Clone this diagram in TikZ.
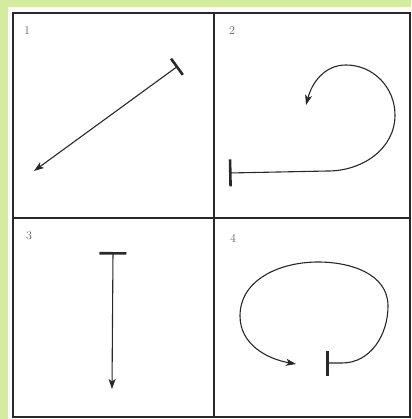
\documentclass[tikz,border=0pt]{standalone}
\usepackage{tikz}
\usetikzlibrary{arrows.meta,positioning,calc}
\definecolor{bggreen}{RGB}{213,235,160}
\definecolor{inkgray}{RGB}{40,40,40}
\definecolor{numgray}{RGB}{100,100,100}

\begin{document}
\begin{tikzpicture}[x=1pt,y=-1pt,
    grid/.style={draw=inkgray, line width=1.6pt},
    num/.style={text=numgray, font=\large, inner sep=0pt},
    barrow/.style={line width=1.1pt, inkgray,
        {Bar[width=#1,line width=2.6pt]}-{Stealth[length=10pt,width=7pt,inset=2.5pt]}},
    barrow/.default=24pt
]
    \useasboundingbox (0,0) rectangle (411,419);
    \fill[bggreen] (0,0) rectangle (411,419);
    \fill[white] (8,7) rectangle (411,419);

    % panel grid
    \draw[grid] (13,13) rectangle (410,417);
    \draw[grid] (214,13) -- (214,417);
    \draw[grid] (13,218) -- (410,218);

    % panel numbers
    \node[num] (n1) at (27,31) {1};
    \node[num] (n2) at (232,31) {2};
    \node[num] (n3) at (29,236) {3};
    \node[num] (n4) at (233,238) {4};

    % 1: straight diagonal
    \coordinate (s1) at (178,66);
    \coordinate (e1) at (34,171);
    \draw[barrow=20pt] (s1) -- (e1);

    % 2: hook
    \coordinate (s2) at (229,173);
    \coordinate (h2) at (328,171);
    \coordinate (r2) at (395,115);
    \coordinate (t2) at (346,65);
    \coordinate (e2) at (306,105);
    \draw[barrow=27pt] (s2) -- (h2) to[out=0,in=-90] (r2)
        to[out=90,in=0] (t2) to[out=180,in=75] (e2);

    % 3: straight down
    \coordinate (s3) at (113,252);
    \coordinate (e3) at (112,389);
    \draw[barrow=27pt] (s3) -- (e3);

    % 4: loop
    \coordinate (s4) at (326,363);
    \coordinate (h4) at (342,363);
    \coordinate (r4) at (388,306);
    \coordinate (t4) at (318,262);
    \coordinate (l4) at (240,316);
    \coordinate (e4) at (296,364);
    \draw[barrow=25pt] (s4) -- (h4) to[out=0,in=-90] (r4)
        to[out=90,in=0] (t4) to[out=180,in=90] (l4)
        to[out=-90,in=170] (e4);
\end{tikzpicture}
\end{document}
